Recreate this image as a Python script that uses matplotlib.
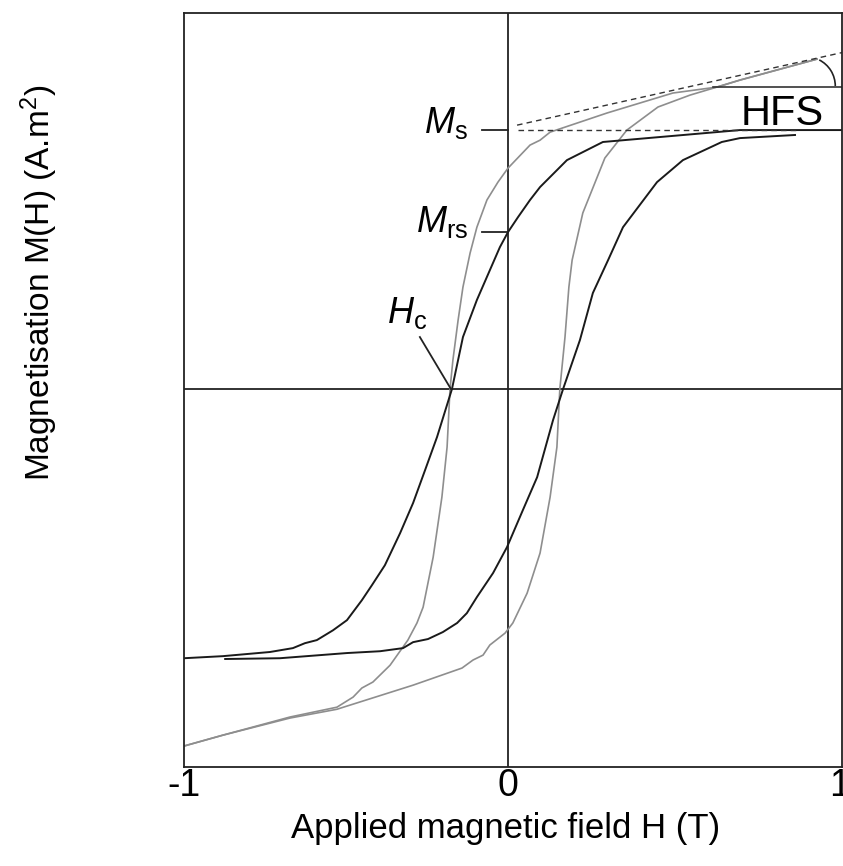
import matplotlib
matplotlib.use("Agg")
import matplotlib.pyplot as plt
from matplotlib.patches import Arc

plt.rcParams['font.family'] = ['Liberation Sans', 'DejaVu Sans']
plt.rcParams['mathtext.fontset'] = 'custom'
plt.rcParams['mathtext.rm'] = 'Liberation Sans'
plt.rcParams['mathtext.it'] = 'Liberation Sans:italic'

# black loop (field in T, magnetisation scaled so Ms = 1)
black_down_H = [1.034, 0.716, 0.293, 0.182, 0.099, 0.068, 0.031, 0.000, -0.025, -0.056,
                -0.096, -0.139, -0.173, -0.219, -0.256, -0.293, -0.333, -0.380, -0.420,
                -0.451, -0.497, -0.540, -0.590, -0.627, -0.664, -0.735, -0.880, -1.000]
black_down_M = [1.000, 1.000, 0.954, 0.884, 0.780, 0.730, 0.664, 0.606, 0.548, 0.459,
                0.344, 0.201, 0.000, -0.185, -0.313, -0.440, -0.556, -0.680, -0.757,
                -0.815, -0.892, -0.931, -0.969, -0.981, -1.000, -1.015, -1.031, -1.039]
black_up_H = [-0.873, -0.704, -0.497, -0.395, -0.324, -0.293, -0.247, -0.201, -0.157,
              -0.127, -0.096, -0.046, -0.003, 0.046, 0.090, 0.139, 0.170, 0.222, 0.262,
              0.309, 0.355, 0.460, 0.540, 0.660, 0.716, 0.886]
black_up_M = [-1.042, -1.039, -1.019, -1.012, -1.000, -0.977, -0.965, -0.938, -0.903,
              -0.865, -0.803, -0.710, -0.610, -0.467, -0.340, -0.120, 0.000, 0.189, 0.371,
              0.498, 0.625, 0.799, 0.884, 0.954, 0.969, 0.981]

# grey loop
grey_down_H = [0.954, 0.716, 0.645, 0.509, 0.306, 0.130, 0.099, 0.068, 0.000, -0.031,
               -0.065, -0.096, -0.117, -0.139, -0.154, -0.170, -0.179, -0.188, -0.204,
               -0.231, -0.262, -0.281, -0.309, -0.364, -0.417, -0.451, -0.478, -0.528,
               -0.673, -0.880, -1.000]
grey_down_M = [1.274, 1.193, 1.166, 1.143, 1.066, 0.992, 0.961, 0.942, 0.853, 0.799,
               0.730, 0.625, 0.525, 0.394, 0.266, 0.112, 0.000, -0.224, -0.417,
               -0.649, -0.842, -0.903, -0.969, -1.066, -1.131, -1.154, -1.189, -1.228,
               -1.266, -1.336, -1.378]
grey_up_H = [-1.000, -0.880, -0.673, -0.528, -0.293, -0.142, -0.108, -0.077, -0.056,
             -0.009, 0.015, 0.059, 0.099, 0.130, 0.151, 0.160, 0.176, 0.188, 0.198,
             0.231, 0.299, 0.367, 0.463, 0.562, 0.645, 0.716, 0.954]
grey_up_M = [-1.378, -1.336, -1.270, -1.236, -1.143, -1.077, -1.046, -1.027, -0.988,
             -0.942, -0.903, -0.788, -0.633, -0.417, -0.224, 0.000, 0.201, 0.394, 0.498,
             0.680, 0.892, 1.000, 1.089, 1.135, 1.166, 1.193, 1.274]

# construction lines
ms_level = 1.0
mrs_level = 0.606
hc_value = -0.176
hfs_line_H = [0.028, 1.034]
hfs_line_M = [1.019, 1.300]
ms_dash_H = [0.031, 0.892]
hfs_base_H = [0.633, 1.034]
hfs_base_M = 1.168

tick_pos = [-1, 0, 1.025]
tick_labels = ['-1', '0', '1']

fig = plt.figure(figsize=(8.43, 8.66), dpi=100)
ax = fig.add_axes([0.2183, 0.1143, 0.7805, 0.8707])
ax.set_xlim(-1, 1.031)
ax.set_ylim(-1.459, 1.452)

ax.axhline(0, color='#222222', lw=1.3, zorder=1)
ax.axvline(0, color='#222222', lw=1.3, zorder=1)

ax.plot(grey_down_H, grey_down_M, color='#8e8e8e', lw=1.2)
ax.plot(grey_up_H, grey_up_M, color='#8e8e8e', lw=1.2)
ax.plot(black_down_H, black_down_M, color='#1a1a1a', lw=1.4)
ax.plot(black_up_H, black_up_M, color='#1a1a1a', lw=1.4)

# high-field slope construction
ax.plot(hfs_line_H, hfs_line_M, color='#333333', lw=1.0, ls=(0, (4, 3)))
ax.plot(ms_dash_H, [ms_level, ms_level], color='#333333', lw=1.0, ls=(0, (4, 3)))
ax.plot(hfs_base_H, [hfs_base_M, hfs_base_M], color='#333333', lw=1.2)
ax.add_patch(Arc((0.920, 1.170), 0.1806, 0.2259, theta1=0, theta2=68,
                 color='#222222', lw=1.2))
ax.text(0.846, 1.019, 'HFS', fontsize=30, ha='center', va='baseline')

# Ms, Mrs, Hc markers
ax.plot([-0.080, 0], [ms_level, ms_level], color='#222222', lw=1.3)
ax.plot([-0.080, 0], [mrs_level, mrs_level], color='#222222', lw=1.3)
ax.plot([-0.272, hc_value], [0.201, 0], color='#222222', lw=1.3)
ax.text(-0.123, 0.988, r'$M_{\mathrm{s}}$', fontsize=26, ha='right', va='baseline')
ax.text(-0.123, 0.606, r'$M_{\mathrm{rs}}$', fontsize=26, ha='right', va='baseline')
ax.text(-0.250, 0.255, r'$H_{\mathrm{c}}$', fontsize=26, ha='right', va='baseline')

ax.set_xticks(tick_pos)
ax.set_xticklabels(tick_labels, fontsize=27)
ax.set_yticks([])
ax.tick_params(axis='x', length=0, pad=1)
for s in ax.spines.values():
    s.set_linewidth(1.3)
    s.set_color('#222222')

fig.text(0.600, 0.043, 'Applied magnetic field H (T)', fontsize=25,
         ha='center', va='center')
fig.text(0.047, 0.673, 'Magnetisation M(H) (A.m$^{2}$)', fontsize=24,
         ha='center', va='center', rotation=90)

fig.savefig('out.png', dpi=100)
